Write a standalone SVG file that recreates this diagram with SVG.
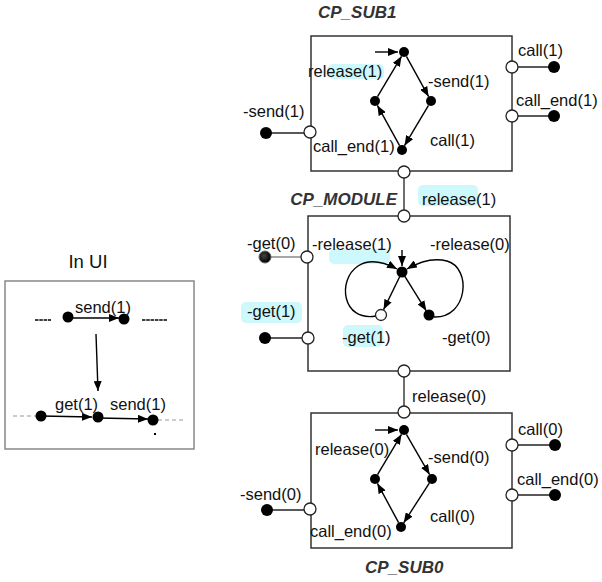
<svg xmlns="http://www.w3.org/2000/svg" width="602" height="582" viewBox="0 0 602 582">
  <style>
    text { font-family: "Liberation Sans", Arial, sans-serif; font-size: 16.5px; fill: #111; }
    .title { font-weight: bold; font-style: italic; font-size: 17px; fill: #333; }
    .box { fill: none; stroke: #333; stroke-width: 1.5; }
    .uibox { fill: none; stroke: #888; stroke-width: 1.5; }
    .port { fill: #fff; stroke: #222; stroke-width: 1.3; }
    .st { fill: #000; }
    .wire { stroke: #222; stroke-width: 1.3; fill: none; }
    .edge { stroke: #000; stroke-width: 1.4; fill: none; marker-end: url(#arrow); }
    .dash { stroke: #999; stroke-width: 1.2; stroke-dasharray: 4 3; fill: none; }
    .tick { stroke: #000; stroke-width: 1.4; stroke-dasharray: 3.5 0.8; fill: none; }
    .hl { fill: #cdf8fc; }
  </style>
  <defs>
    <marker id="arrow" viewBox="0 0 10 8" refX="10" refY="4" markerWidth="10" markerHeight="8" markerUnits="userSpaceOnUse" orient="auto">
      <path d="M0,0 L10,4 L0,8 z" fill="#000"/>
    </marker>
    <radialGradient id="darkdot" cx="0.4" cy="0.4" r="0.6">
      <stop offset="0" stop-color="#444"/>
      <stop offset="1" stop-color="#000"/>
    </radialGradient>
  </defs>

  <rect width="602" height="582" fill="#fff"/>

  <!-- highlights behind labels -->
  <g id="highlights">
    <rect class="hl" x="328" y="64" width="56" height="15" rx="5"/>
    <rect class="hl" x="418" y="185" width="60" height="21" rx="5"/>
    <rect class="hl" x="329" y="249" width="61" height="15" rx="5"/>
    <rect class="hl" x="241" y="302" width="61" height="21" rx="5"/>
    <rect class="hl" x="343" y="325" width="40" height="22" rx="5"/>
  </g>

  <!-- In UI panel -->
  <g id="ui">
    <text x="88" y="268" text-anchor="middle" style="font-size:18.5px">In UI</text>
    <rect class="uibox" x="5" y="281" width="189" height="168"/>
    <line class="tick" x1="35" y1="320" x2="51" y2="320"/>
    <line class="tick" x1="142" y1="320" x2="167" y2="320"/>
    <line class="edge" x1="68" y1="318" x2="119" y2="318"/>
    <circle class="st" cx="68" cy="317" r="5.5"/>
    <circle class="st" cx="124" cy="319" r="5.5"/>
    <text x="75" y="313">send(1)</text>
    <line class="edge" x1="96" y1="334" x2="98" y2="391"/>
    <line class="dash" x1="13" y1="416" x2="37" y2="416"/>
    <line class="dash" x1="158" y1="420" x2="186" y2="420"/>
    <line class="edge" x1="41" y1="416" x2="92" y2="417"/>
    <line class="edge" x1="98" y1="418" x2="148" y2="419"/>
    <circle class="st" cx="41" cy="416" r="5.5"/>
    <circle class="st" cx="98" cy="417" r="5.5"/>
    <circle class="st" cx="153" cy="420" r="5.5"/>
    <text x="55" y="410">get(1)</text>
    <text x="110" y="410">send(1)</text>
    <rect x="154" y="433" width="2" height="2" fill="#000"/>
  </g>

  <!-- connectors between modules -->
  <g id="connectors">
    <line class="wire" x1="404" y1="178" x2="404" y2="210"/>
    <line class="wire" x1="404" y1="377" x2="404" y2="406"/>
  </g>

  <!-- CP_SUB1 -->
  <g id="cp_sub1">
    <text class="title" x="318" y="18">CP_SUB1</text>
    <rect class="box" x="311" y="36" width="201" height="135"/>
    <line class="edge" x1="375" y1="52" x2="398" y2="52"/>
    <line class="edge" x1="406.4" y1="56.4" x2="428.6" y2="96.6"/>
    <line class="edge" x1="428.5" y1="105.3" x2="404.5" y2="145.7"/>
    <line class="edge" x1="399.6" y1="145.6" x2="377.4" y2="105.4"/>
    <line class="edge" x1="377.5" y1="96.7" x2="401.5" y2="56.3"/>
    <circle class="st" cx="404" cy="52" r="5"/>
    <circle class="st" cx="431" cy="101" r="5"/>
    <circle class="st" cx="402" cy="150" r="5"/>
    <circle class="st" cx="375" cy="101" r="5"/>
    <line class="wire" x1="266" y1="133" x2="310" y2="133"/>
    <circle class="st" cx="266" cy="133" r="6"/>
    <circle class="port" cx="310" cy="132" r="6"/>
    <line class="wire" x1="512" y1="67" x2="554" y2="67"/>
    <circle class="st" cx="554" cy="67" r="6"/>
    <circle class="port" cx="512" cy="67" r="6"/>
    <line class="wire" x1="512" y1="116" x2="554" y2="116"/>
    <circle class="st" cx="554" cy="116" r="6"/>
    <circle class="port" cx="512" cy="116" r="6"/>
    <circle class="port" cx="404" cy="172" r="6"/>
    <text x="518" y="56">call(1)</text>
    <text x="516" y="106">call_end(1)</text>
    <text x="243" y="117">-send(1)</text>
    <text x="308" y="77">release(1)</text>
    <text x="428" y="87">-send(1)</text>
    <text x="430" y="146">call(1)</text>
    <text x="313" y="152">call_end(1)</text>
  </g>

  <!-- CP_MODULE -->
  <g id="cp_module">
    <text class="title" x="397" y="205" text-anchor="end">CP_MODULE</text>
    <rect class="box" x="308" y="216" width="202" height="155"/>
    <text x="422" y="205">release(1)</text>
    <line class="edge" x1="402" y1="250" x2="402" y2="266"/>
    <line class="edge" x1="399.8" y1="276.5" x2="383.6" y2="309.6"/>
    <line class="edge" x1="404.7" y1="276.2" x2="426.3" y2="310.8"/>
    <path class="edge" d="M376,316 C 342,322 337,280 358,266 C 370,258 384,262 397,269"/>
    <path class="edge" d="M434,317 C 468,318 472,268 447,261 C 432,257 419,262 407,269"/>
    <circle class="st" cx="402" cy="272" r="5.5"/>
    <circle class="port" cx="381" cy="315" r="5.5" stroke="#000"/>
    <circle class="st" cx="429" cy="315" r="5.5"/>
    <line x1="265" y1="257" x2="307" y2="257" stroke="#888" stroke-width="1.3"/>
    <circle cx="265" cy="257" r="6" fill="url(#darkdot)" stroke="#666" stroke-width="1"/>
    <circle class="port" cx="307" cy="257" r="6" stroke="#888"/>
    <line class="wire" x1="265" y1="338" x2="308" y2="338"/>
    <circle class="st" cx="265" cy="338" r="6"/>
    <circle class="port" cx="308" cy="338" r="6"/>
    <circle class="port" cx="404" cy="216" r="6"/>
    <circle class="port" cx="404" cy="371" r="6"/>
    <text x="247" y="249">-get(0)</text>
    <text x="312" y="250">-release(1)</text>
    <text x="430" y="250">-release(0)</text>
    <text x="247" y="317">-get(1)</text>
    <text x="342" y="343">-get(1)</text>
    <text x="442" y="343">-get(0)</text>
  </g>

  <!-- CP_SUB0 -->
  <g id="cp_sub0">
    <text x="412" y="402">release(0)</text>
    <rect class="box" x="311" y="413" width="201" height="135"/>
    <line class="edge" x1="375" y1="430" x2="398" y2="430"/>
    <line class="edge" x1="406.4" y1="434.4" x2="429.6" y2="474.6"/>
    <line class="edge" x1="429.3" y1="483.2" x2="403.7" y2="522.8"/>
    <line class="edge" x1="398.6" y1="522.6" x2="377.4" y2="483.4"/>
    <line class="edge" x1="377.5" y1="474.7" x2="401.5" y2="434.3"/>
    <circle class="st" cx="404" cy="430" r="5"/>
    <circle class="st" cx="432" cy="479" r="5"/>
    <circle class="st" cx="401" cy="527" r="5"/>
    <circle class="st" cx="375" cy="479" r="5"/>
    <line class="wire" x1="267" y1="510" x2="310" y2="510"/>
    <circle class="st" cx="267" cy="510" r="6"/>
    <circle class="port" cx="310" cy="509" r="6"/>
    <line class="wire" x1="512" y1="445" x2="555" y2="445"/>
    <circle class="st" cx="555" cy="445" r="6"/>
    <circle class="port" cx="512" cy="445" r="6"/>
    <line class="wire" x1="512" y1="495" x2="555" y2="495"/>
    <circle class="st" cx="555" cy="495" r="6"/>
    <circle class="port" cx="512" cy="495" r="6"/>
    <circle class="port" cx="404" cy="412" r="6"/>
    <text x="518" y="435">call(0)</text>
    <text x="517" y="485">call_end(0)</text>
    <text x="240" y="500">-send(0)</text>
    <text x="315" y="455">release(0)</text>
    <text x="428" y="463">-send(0)</text>
    <text x="430" y="522">call(0)</text>
    <text x="310" y="537">call_end(0)</text>
    <text class="title" x="365" y="573">CP_SUB0</text>
  </g>
</svg>
